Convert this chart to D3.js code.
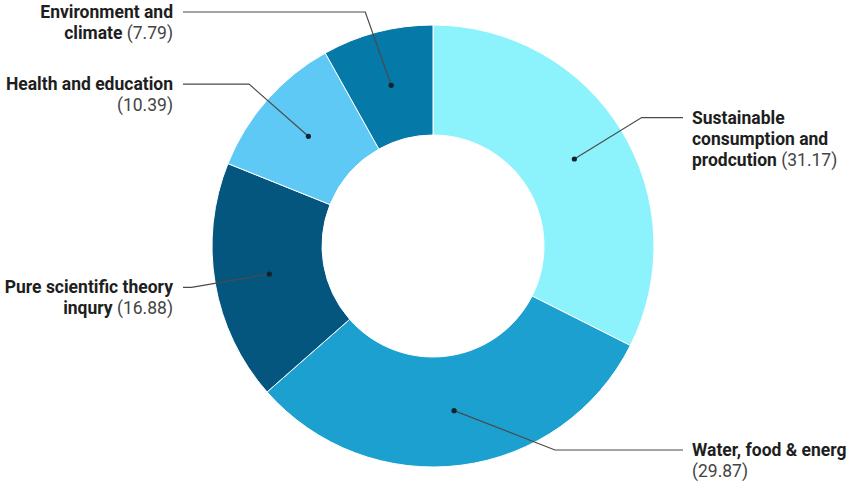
<!DOCTYPE html>
<html>
<head>
<meta charset="utf-8">
<script src="https://cdn.jsdelivr.net/npm/d3@7"></script>
<style>
  html, body { margin: 0; padding: 0; background: #fff; }
  svg { display: block; font-family: Roboto, "Noto Sans", sans-serif; }
</style>
</head>
<body>
<div id="chart"></div>
<script>
// slice order goes clockwise from 12 o'clock
const categories = [
  "Sustainable\nconsumption and\nprodcution",
  "Water, food & energ\n",
  "Pure scientific theory\ninqury",
  "Health and education\n",
  "Environment and\nclimate"
];
const values = [31.17, 29.87, 16.88, 10.39, 7.79];
const colors = ["#8cf2fb", "#1ba0d0", "#04567f", "#5ec9f4", "#0579a7"];

const width = 851, height = 495;
const cx = 433, cy = 246;
const outerR = 221, innerR = 111;
const elbowR = 245;
const labelTop = 12, labelBottom = 450;
const lineH = 21;

const svg = d3.select('#chart').append('svg')
  .attr('width', width)
  .attr('height', height);

const g = svg.append('g').attr('transform', `translate(${cx},${cy})`);

const pie = d3.pie().sort(null).value(d => d.value);
const arc = d3.arc().innerRadius(innerR).outerRadius(outerR);

const data = categories.map((c, i) => ({ name: c, value: values[i], color: colors[i] }));
const arcs = pie(data);

g.selectAll('path.slice')
  .data(arcs)
  .enter().append('path')
  .attr('class', 'slice')
  .attr('d', arc)
  .attr('fill', d => d.data.color)
  .attr('stroke', '#ffffff')
  .attr('stroke-width', 1);

// leader lines + labels
const labels = g.append('g').attr('class', 'labels');

arcs.forEach(d => {
  const mid = (d.startAngle + d.endAngle) / 2;
  const dot = arc.centroid(d);
  const side = Math.sin(mid) >= 0 ? 1 : -1;
  let ex = Math.sin(mid) * elbowR;
  let ey = -Math.cos(mid) * elbowR;
  if (ey + cy > labelBottom) {
    ey = labelBottom - cy;
    ex = dot[0] + side * Math.abs(ey - dot[1]) / 0.39;
  }
  if (ey + cy < labelTop) { ey = labelTop - cy; ex -= 6; }

  const endX = side > 0 ? 683 - cx : 183 - cx;
  const textX = side > 0 ? 692 - cx : 173 - cx;

  labels.append('path')
    .attr('d', d3.line()([dot, [ex, ey], [endX, ey]]))
    .attr('fill', 'none')
    .attr('stroke', '#4a4a4a')
    .attr('stroke-width', 1.2);

  labels.append('circle')
    .attr('cx', dot[0]).attr('cy', dot[1])
    .attr('r', 2.6)
    .attr('fill', '#13232e');

  const lines = d.data.name.split('\n');
  const text = labels.append('text')
    .attr('x', textX)
    .attr('y', ey)
    .attr('text-anchor', side > 0 ? 'start' : 'end')
    .attr('font-size', 17.5);

  lines.forEach((ln, i) => {
    const last = i === lines.length - 1;
    const ts = text.append('tspan')
      .attr('x', textX)
      .attr('y', ey + i * lineH)
      .attr('dy', '0.35em');
    if (ln) {
      ts.append('tspan')
        .attr('font-weight', 700)
        .attr('fill', '#1e1e1e')
        .text(ln);
    }
    if (last) {
      ts.append('tspan')
        .attr('fill', '#444')
        .text((ln ? ' ' : '') + '(' + d3.format('.2f')(d.data.value) + ')');
    }
  });
});
</script>
</body>
</html>
